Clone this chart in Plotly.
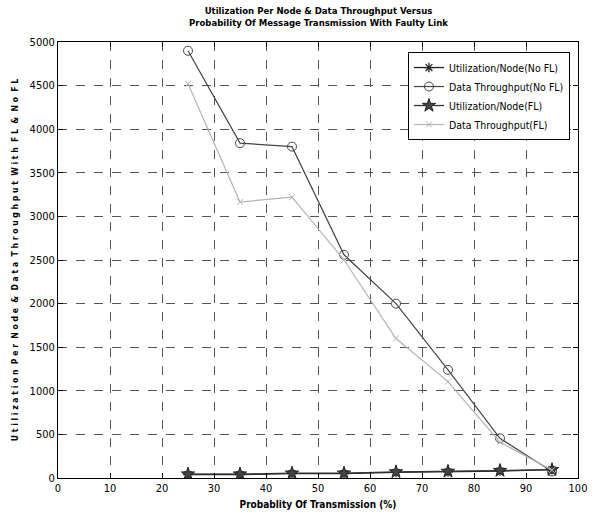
import plotly.graph_objects as go

prob = [25, 35, 45, 55, 65, 75, 85, 95]
util_nofl = [40, 40, 50, 50, 65, 70, 80, 95]
thr_nofl = [4900, 3840, 3800, 2560, 2000, 1240, 455, 75]
util_fl = [45, 45, 55, 55, 70, 75, 85, 95]
thr_fl = [4520, 3165, 3220, 2500, 1600, 1105, 410, 90]

FONT = "Liberation Sans Narrow, Arial Narrow, DejaVu Sans Condensed, Liberation Sans, Arial, sans-serif"

fig = go.Figure()
fig.add_trace(go.Scatter(x=prob, y=util_nofl, mode="lines+markers", name="Utilization/Node(No FL)",
                         line=dict(color="#222222", width=1.3),
                         marker=dict(symbol="asterisk-open", size=8, color="#222222", line=dict(width=1.3, color="#222222"))))
fig.add_trace(go.Scatter(x=prob, y=thr_nofl, mode="lines+markers", name="Data Throughput(No FL)",
                         line=dict(color="#444444", width=1.2),
                         marker=dict(symbol="circle-open", size=9, color="#444444", line=dict(width=1))))
fig.add_trace(go.Scatter(x=prob, y=util_fl, mode="lines+markers", name="Utilization/Node(FL)",
                         line=dict(color="#333333", width=1.3),
                         marker=dict(symbol="star", size=10, color="#444444", line=dict(width=1, color="#222222"))))
fig.add_trace(go.Scatter(x=prob, y=thr_fl, mode="lines+markers", name="Data Throughput(FL)",
                         line=dict(color="#b4b4b4", width=1.2),
                         marker=dict(symbol="x-thin-open", size=6, color="#b4b4b4", line=dict(width=1, color="#b4b4b4"))))

axis_common = dict(
    showline=True, linecolor="black", linewidth=1, mirror="ticks",
    ticks="inside", ticklen=5, tickcolor="black",
    showgrid=True, gridcolor="#555555", griddash="dash", gridwidth=1,
    zeroline=False, automargin=False,
    tickfont=dict(family=FONT, size=11, color="black"),
)

fig.update_xaxes(range=[0, 100], dtick=10, tick0=0,
                 title=dict(text="<b>Probablity Of Transmission (%)</b>", font=dict(family=FONT, size=10, color="black"), standoff=6),
                 **axis_common)
fig.update_yaxes(range=[0, 5000], dtick=500, tick0=0,
                 title=dict(text="<b>U t i l i z a t i o n  P e r  N o d e  &amp;  D a t a  T h r o u g h p u t  W i t h  F L  &amp;  N o  F L</b>",
                            font=dict(family=FONT, size=8.6, color="black"), standoff=9),
                 **axis_common)

fig.add_annotation(text="<b>Utilization Per Node &amp; Data Throughput Versus<br>Probability Of Message Transmission With Faulty Link</b>",
                   xref="paper", yref="paper", x=0.5, y=1, xanchor="center", yanchor="bottom",
                   yshift=12, showarrow=False, align="center",
                   font=dict(family=FONT, size=9.5, color="black"))

fig.update_layout(
    width=595, height=517,
    margin=dict(l=58, r=17, t=42, b=39, autoexpand=False),
    paper_bgcolor="white", plot_bgcolor="white",
    legend=dict(x=0.673, y=0.977, xanchor="left", yanchor="top",
                bgcolor="white", bordercolor="black", borderwidth=1,
                font=dict(family=FONT, size=10.5, color="black"),
                tracegroupgap=0, itemwidth=30),
    showlegend=True,
    font=dict(family=FONT),
)

fig.write_html("out.html")
